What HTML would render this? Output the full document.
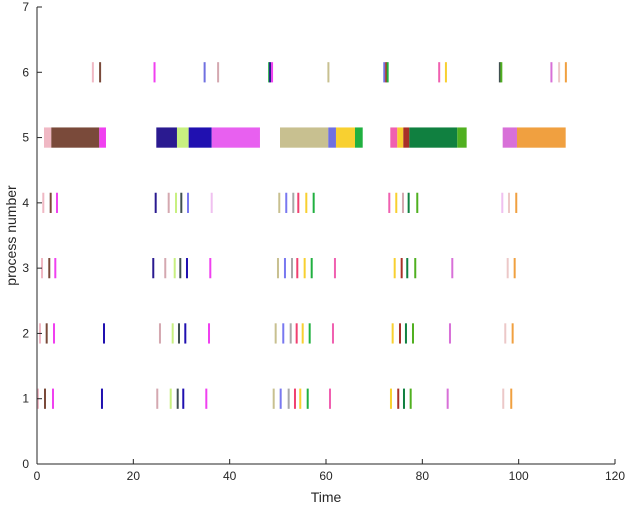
<!DOCTYPE html>
<html><head><meta charset="utf-8"><style>
body{margin:0;background:#fff;}
svg{display:block;font-family:"Liberation Sans",sans-serif;}
</style></head><body>
<svg id="chart" width="629" height="508"></svg>
<script>
const C={pinkL:'#f0b8c4',brown:'#7a4a3a',magenta:'#f040f0',navy:'#2a1a90',indigo:'#2010b0',rosy:'#d4a8b0',lime:'#c8f080',dslate:'#405050',slate:'#7070e0',lviolet:'#f0c0f0',khaki:'#c8c090',blue:'#7878f0',gray:'#a8a8a8',crimson:'#f04070',gold:'#f8d030',green:'#20b040',hotpink:'#f060b0',brownred:'#a83028',seagreen:'#108040',lgreen:'#50b020',orchid:'#d870d8',rosyL:'#ecc8c8',orange:'#f0a040',mag2:'#e860f0'};
// events: row, start time, color
const row6Times=[11.6,13.1,24.4,34.8,37.6,48.2,48.4,48.8,60.5,72.1,72.5,72.8,83.5,84.9,96.1,96.4,106.8,108.4,109.8];
const row6Colors=['pinkL','brown','magenta','slate','rosy','green','navy','magenta','khaki','slate','brownred','green','hotpink','gold','dslate','lgreen','orchid','rosyL','orange'];
const row4Times=[1.31,2.84,4.15,24.64,27.34,28.86,29.96,31.35,36.27,50.30,51.75,53.21,54.25,55.91,57.44,73.14,74.59,75.98,77.16,78.95,96.6,97.99,99.5];
const row4Colors=['pinkL','brown','magenta','navy','rosy','lime','dslate','blue','lviolet','khaki','blue','gray','crimson','gold','green','hotpink','gold','rosy','seagreen','lgreen','lviolet','rosyL','orange'];
const row3Times=[1.04,2.55,3.80,24.14,26.63,28.59,29.75,31.14,35.98,50.03,51.48,52.94,54.04,55.57,57.03,61.86,74.26,75.71,76.87,78.53,86.22,97.72,99.17];
const row3Colors=['pinkL','brown','magenta','navy','rosy','lime','dslate','indigo','magenta','khaki','blue','gray','crimson','gold','green','hotpink','gold','brownred','seagreen','lgreen','orchid','rosyL','orange'];
const row2Times=[0.62,2.01,3.53,13.91,25.53,28.17,29.48,30.79,35.71,49.55,51.13,52.67,53.91,55.16,56.61,61.45,73.84,75.36,76.6,78.06,85.74,97.22,98.75];
const row2Colors=['pinkL','brown','magenta','indigo','rosy','lime','dslate','indigo','magenta','khaki','blue','gray','crimson','gold','green','hotpink','gold','brownred','seagreen','lgreen','orchid','rosyL','orange'];
const row1Times=[0.2,1.66,3.32,13.49,24.97,27.76,29.21,30.37,35.15,49.14,50.59,52.25,53.56,54.66,56.2,60.83,73.49,75.0,76.19,77.58,85.26,96.8,98.46];
const row1Colors=['pinkL','brown','magenta','indigo','rosy','lime','dslate','indigo','magenta','khaki','blue','gray','crimson','gold','green','hotpink','gold','brownred','seagreen','lgreen','orchid','rosyL','orange'];
// row 5 bars: start, end, color
const row5Starts=[1.45,2.97,12.93,24.77,29.06,31.49,36.27,50.45,60.47,62.07,66.02,73.35,74.8,76.05,77.3,87.25,96.68,99.65];
const row5Ends=[2.97,12.93,14.32,29.06,31.49,36.27,46.29,60.47,62.07,66.02,67.62,74.8,76.05,77.3,87.25,89.2,99.65,109.76];
const row5Colors=['pinkL','brown','magenta','navy','lime','indigo','mag2','khaki','slate','gold','green','hotpink','gold','brownred','seagreen','lgreen','orchid','orange'];
const xTicks=[0,20,40,60,80,100,120];
const yTicks=[0,1,2,3,4,5,6,7];

const svg=document.getElementById('chart');
const NS='http://www.w3.org/2000/svg';
const L=37,R=615,T=7,B=464;
const xs=t=>L+(t-0)/120*(R-L);
const ys=v=>B-v/7*(B-T);
function mk(tag,a){const e=document.createElementNS(NS,tag);for(const k in a)e.setAttribute(k,a[k]);svg.appendChild(e);return e;}
const H=0.31*(B-T)/7;
function tick(row,t,col,name){
  const r=mk('rect',{x:xs(t)-1,y:ys(row)-H/2,width:2,height:H,fill:C[col]});
  
  
}
[[6,row6Times,row6Colors],[4,row4Times,row4Colors],[3,row3Times,row3Colors],[2,row2Times,row2Colors],[1,row1Times,row1Colors]].forEach(([row,ts,cs])=>{
  ts.forEach((t,i)=>tick(row,t,cs[i],'event-row'+row+'-'+i));
});
row5Starts.forEach((s,i)=>{
  const r=mk('rect',{x:xs(s),y:ys(5)-H/2,width:xs(row5Ends[i])-xs(s),height:H,fill:C[row5Colors[i]]});
  
  
});
// axes
const ax=mk('line',{x1:L,y1:T,x2:L,y2:B,stroke:'#262626','stroke-width':1});


const bx=mk('line',{x1:L,y1:B,x2:R,y2:B,stroke:'#262626','stroke-width':1});


yTicks.forEach(v=>{
  mk('line',{x1:L,y1:ys(v),x2:L+5,y2:ys(v),stroke:'#262626'});
  const t=mk('text',{x:L-8,y:ys(v)+4,'text-anchor':'end','font-size':12,fill:'#262626'});
  t.textContent=v;
  
  
});
xTicks.forEach(v=>{
  mk('line',{x1:xs(v),y1:B,x2:xs(v),y2:B-5,stroke:'#262626'});
  const t=mk('text',{x:xs(v),y:B+16,'text-anchor':'middle','font-size':12,fill:'#262626'});
  t.textContent=v;
  
  
});
const xt=mk('text',{x:(L+R)/2,y:502,'text-anchor':'middle','font-size':14,fill:'#262626'});
xt.textContent='Time';


const yt=mk('text',{x:0,y:0,'text-anchor':'middle','font-size':14,fill:'#262626',transform:'translate(16,'+((T+B)/2)+') rotate(-90)'});
yt.textContent='process number';


</script>
</body></html>
